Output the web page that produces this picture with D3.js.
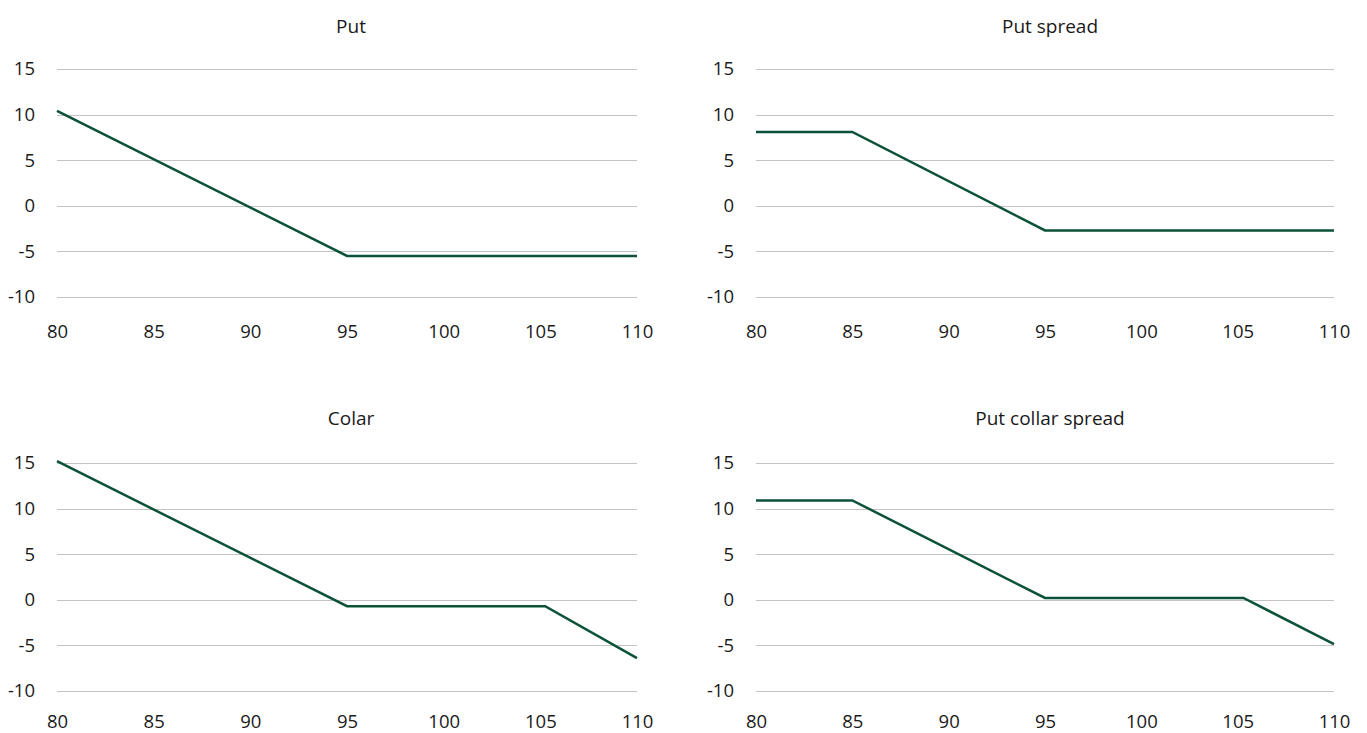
<!DOCTYPE html>
<html>
<head>
<meta charset="utf-8">
<script src="https://cdn.jsdelivr.net/npm/d3@7"></script>
<style>
  html, body { margin: 0; padding: 0; background: #fff; }
  svg text { font-family: "Open Sans", "Noto Sans", sans-serif; fill: #1a1a1a; }
</style>
</head>
<body>
<svg id="chart" width="1367" height="733"></svg>
<script>
// ---- data ----
const titles = ["Put", "Put spread", "Colar", "Put collar spread"];
const xTicks = [80, 85, 90, 95, 100, 105, 110];
const yTicks = [-10, -5, 0, 5, 10, 15];
const putX = [80, 95, 110];
const putY = [10.4, -5.5, -5.5];
const putSpreadX = [80, 85, 95, 110];
const putSpreadY = [8.1, 8.1, -2.7, -2.7];
const colarX = [80, 95, 105.25, 110];
const colarY = [15.2, -0.7, -0.7, -6.4];
const putCollarSpreadX = [80, 85, 95, 105.3, 110];
const putCollarSpreadY = [10.9, 10.9, 0.2, 0.2, -4.85];

const seriesX = [putX, putSpreadX, colarX, putCollarSpreadX];
const seriesY = [putY, putSpreadY, colarY, putCollarSpreadY];

// ---- layout ----
const panels = [
  { left: 57,  right: 637,  top: 69,  bottom: 297, titleX: 351,  titleY: 33,  xPad: 28 },
  { left: 756, right: 1334, top: 69,  bottom: 297, titleX: 1050, titleY: 33,  xPad: 28 },
  { left: 57,  right: 637,  top: 463, bottom: 691, titleX: 351,  titleY: 425, xPad: 24 },
  { left: 756, right: 1334, top: 463, bottom: 691, titleX: 1050, titleY: 425, xPad: 24 }
];
const FONT = "'Open Sans', 'Noto Sans', sans-serif";

const svg = d3.select("#chart");

panels.forEach((p, i) => {
  const x = d3.scaleLinear().domain([80, 110]).range([p.left, p.right]);
  const y = d3.scaleLinear().domain([-10, 15]).range([p.bottom, p.top]);
  const g = svg.append("g");

  // title
  g.append("text")
    .attr("x", p.titleX).attr("y", p.titleY)
    .attr("text-anchor", "middle")
    .style("font-size", "19px")
    .style("font-family", FONT)
    .text(titles[i]);

  // gridlines
  g.selectAll("line.grid").data(yTicks).enter().append("line")
    .attr("class", "grid")
    .attr("x1", p.left).attr("x2", p.right)
    .attr("y1", d => Math.round(y(d)) + 0.5).attr("y2", d => Math.round(y(d)) + 0.5)
    .attr("stroke", "#c3c3c3").attr("stroke-width", 1);

  // y axis labels
  const yAxis = d3.axisLeft(y).tickValues(yTicks).tickSize(0).tickPadding(22)
    .tickFormat(d => String(d));
  const ya = g.append("g").attr("transform", `translate(${p.left},0)`).call(yAxis);
  ya.select(".domain").remove();
  ya.selectAll("text").style("font-size", "18.5px").style("font-family", FONT).attr("fill", "#1a1a1a");

  // x axis labels
  const xAxis = d3.axisBottom(x).tickValues(xTicks).tickSize(0).tickPadding(p.xPad)
    .tickFormat(d => String(d));
  const xa = g.append("g").attr("transform", `translate(0,${p.bottom})`).call(xAxis);
  xa.select(".domain").remove();
  xa.selectAll("text").style("font-size", "18.5px").style("font-family", FONT).attr("fill", "#1a1a1a");

  // line
  const pts = seriesX[i].map((v, k) => [v, seriesY[i][k]]);
  const line = d3.line().x(d => x(d[0])).y(d => y(d[1]));
  g.append("path")
    .datum(pts)
    .attr("d", line)
    .attr("fill", "none")
    .attr("stroke", "#0b5237")
    .attr("stroke-width", 2.5)
    .attr("stroke-linejoin", "miter");
});
</script>
</body>
</html>
